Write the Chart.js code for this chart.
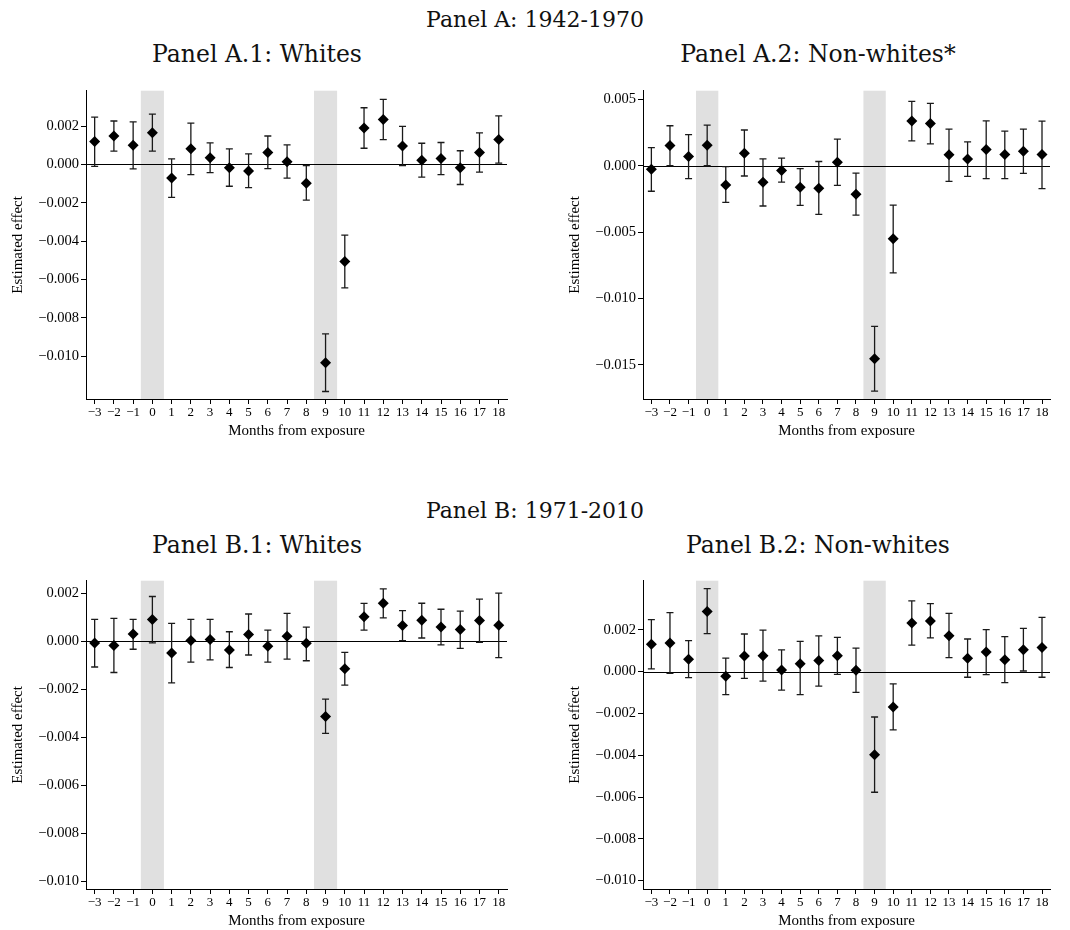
<!DOCTYPE html>
<html>
<head>
<meta charset="utf-8">
<script src="https://cdn.jsdelivr.net/npm/chart.js@4.4.1/dist/chart.umd.min.js"></script>
<style>
body { margin: 0; background: #fff; width: 1070px; height: 930px; position: relative; overflow: hidden; }
.t { position: absolute; font-family: "DejaVu Serif", serif; font-size: 22px; color: #111; white-space: nowrap; transform: translateX(-50%); line-height: 1; }
.s { font-size: 23.5px; }
canvas { position: absolute; }
</style>
</head>
<body>
<div class="t" style="left:535px;top:9px">Panel A: 1942-1970</div>
<div class="t s" style="left:257px;top:43px">Panel A.1: Whites</div>
<div class="t s" style="left:818px;top:43px">Panel A.2: Non-whites*</div>
<div class="t" style="left:535px;top:500px">Panel B: 1971-2010</div>
<div class="t s" style="left:257px;top:534px">Panel B.1: Whites</div>
<div class="t s" style="left:818px;top:534px">Panel B.2: Non-whites</div>

<canvas id="a1"></canvas>
<canvas id="a2"></canvas>
<canvas id="b1"></canvas>
<canvas id="b2"></canvas>

<script>
var months = [-3, -2, -1, 0, 1, 2, 3, 4, 5, 6, 7, 8, 9, 10, 11, 12, 13, 14, 15, 16, 17, 18];
var bands = [0, 9];

// Panel A.1: Whites, 1942-1970
var a1Est = [0.00119, 0.00148, 0.00100, 0.00165, -0.00071, 0.00081, 0.00034, -0.00017, -0.00034, 0.00062, 0.00014, -0.00098, -0.01034, -0.00506, 0.00189, 0.00234, 0.00096, 0.00022, 0.00031, -0.00017, 0.00062, 0.00129];
var a1Lo = [-0.00010, 0.00069, -0.00024, 0.00069, -0.00172, -0.00053, -0.00043, -0.00114, -0.00121, -0.00022, -0.00072, -0.00186, -0.01184, -0.00644, 0.00084, 0.00129, -0.00007, -0.00067, -0.00053, -0.00105, -0.00040, 0.00007];
var a1Hi = [0.00246, 0.00226, 0.00222, 0.00262, 0.00029, 0.00215, 0.00112, 0.00081, 0.00055, 0.00148, 0.00102, -0.00007, -0.00884, -0.00369, 0.00295, 0.00339, 0.00198, 0.00110, 0.00114, 0.00071, 0.00164, 0.00253];
var a1Ticks = [0.002, 0, -0.002, -0.004, -0.006, -0.008, -0.010];

// Panel A.2: Non-whites, 1942-1970
var a2Est = [-0.00027, 0.00152, 0.00070, 0.00154, -0.00144, 0.00095, -0.00124, -0.00035, -0.00162, -0.00169, 0.00027, -0.00214, -0.01453, -0.00550, 0.00336, 0.00318, 0.00082, 0.00050, 0.00122, 0.00085, 0.00109, 0.00085];
var a2Lo = [-0.00192, 0.00000, -0.00097, 0.00000, -0.00276, -0.00077, -0.00303, -0.00124, -0.00299, -0.00366, -0.00147, -0.00371, -0.01697, -0.00806, 0.00187, 0.00164, -0.00117, -0.00080, -0.00097, -0.00097, -0.00057, -0.00172];
var a2Hi = [0.00137, 0.00301, 0.00234, 0.00306, -0.00007, 0.00269, 0.00052, 0.00057, -0.00022, 0.00032, 0.00201, -0.00055, -0.01209, -0.00296, 0.00485, 0.00470, 0.00276, 0.00179, 0.00338, 0.00261, 0.00276, 0.00336];
var a2Ticks = [0.005, 0, -0.005, -0.010, -0.015];

// Panel B.1: Whites, 1971-2010
var b1Est = [-0.00007, -0.00017, 0.00031, 0.00091, -0.00049, 0.00004, 0.00008, -0.00036, 0.00029, -0.00020, 0.00021, -0.00008, -0.00313, -0.00114, 0.00103, 0.00159, 0.00066, 0.00088, 0.00060, 0.00049, 0.00087, 0.00067];
var b1Lo = [-0.00107, -0.00130, -0.00033, -0.00006, -0.00173, -0.00087, -0.00077, -0.00109, -0.00057, -0.00087, -0.00074, -0.00081, -0.00384, -0.00183, 0.00047, 0.00098, 0.00003, 0.00014, -0.00015, -0.00029, -0.00004, -0.00068];
var b1Hi = [0.00092, 0.00096, 0.00092, 0.00187, 0.00075, 0.00092, 0.00092, 0.00040, 0.00114, 0.00047, 0.00117, 0.00059, -0.00241, -0.00046, 0.00158, 0.00219, 0.00128, 0.00159, 0.00134, 0.00126, 0.00176, 0.00201];
var b1Ticks = [0.002, 0, -0.002, -0.004, -0.006, -0.008, -0.010];

// Panel B.2: Non-whites, 1971-2010
var b2Est = [0.00131, 0.00137, 0.00059, 0.00288, -0.00022, 0.00075, 0.00076, 0.00008, 0.00038, 0.00053, 0.00076, 0.00006, -0.00398, -0.00169, 0.00233, 0.00242, 0.00172, 0.00064, 0.00094, 0.00057, 0.00105, 0.00116];
var b2Lo = [0.00013, -0.00008, -0.00029, 0.00182, -0.00110, -0.00032, -0.00045, -0.00089, -0.00110, -0.00069, -0.00013, -0.00099, -0.00577, -0.00279, 0.00127, 0.00161, 0.00067, -0.00027, -0.00014, -0.00053, 0.00003, -0.00027];
var b2Hi = [0.00249, 0.00282, 0.00148, 0.00397, 0.00065, 0.00180, 0.00199, 0.00104, 0.00145, 0.00171, 0.00164, 0.00112, -0.00217, -0.00059, 0.00338, 0.00325, 0.00279, 0.00156, 0.00201, 0.00167, 0.00207, 0.00260];
var b2Ticks = [0.002, 0, -0.002, -0.004, -0.006, -0.008, -0.010];

var serif = '"Liberation Serif", "Times New Roman", serif';
var PLOT_H = 311, Y_W = 86, PAD_TOP = 8;

function minus(s, v) {
    return v < -1e-9 ? '\u2212' + s : s;
}

// shaded months, zero line and confidence intervals, drawn under the markers
function makeBars(lo, hi) {
    return {
        id: 'errorBars',
        beforeDatasetsDraw: function (chart) {
            var ctx = chart.ctx, x = chart.scales.x, y = chart.scales.y, area = chart.chartArea;
            ctx.save();
            ctx.fillStyle = '#e0e0e0';
            bands.forEach(function (b) {
                var l = x.getPixelForValue(b - 0.6), r = x.getPixelForValue(b + 0.6);
                ctx.fillRect(l, area.top, r - l, area.bottom - area.top);
            });
            var y0 = Math.round(y.getPixelForValue(0)) + 0.5;
            ctx.strokeStyle = '#000';
            ctx.lineWidth = 1;
            ctx.beginPath();
            ctx.moveTo(area.left, y0);
            ctx.lineTo(area.right, y0);
            ctx.stroke();
            ctx.strokeStyle = '#1a1a1a';
            ctx.lineWidth = 1.3;
            months.forEach(function (m, i) {
                var px = x.getPixelForValue(m);
                var pl = y.getPixelForValue(lo[i]), ph = y.getPixelForValue(hi[i]);
                ctx.beginPath();
                ctx.moveTo(px, pl); ctx.lineTo(px, ph);
                ctx.moveTo(px - 3.5, pl); ctx.lineTo(px + 3.5, pl);
                ctx.moveTo(px - 3.5, ph); ctx.lineTo(px + 3.5, ph);
                ctx.stroke();
            });
            ctx.restore();
        }
    };
}

function panel(id, axisX, plotTop, plotW, est, lo, hi, yMin, yMax, yTicks) {
    var cv = document.getElementById(id);
    var W = Y_W + plotW + 14, H = 360;
    cv.width = W;
    cv.height = H;
    cv.style.left = (axisX - Y_W) + 'px';
    cv.style.top = (plotTop - PAD_TOP) + 'px';

    new Chart(cv, {
        type: 'scatter',
        data: {
            datasets: [{
                data: months.map(function (m, i) { return { x: m, y: est[i] }; }),
                pointStyle: 'rectRot',
                radius: 5.5,
                backgroundColor: '#000',
                borderColor: '#000',
                borderWidth: 0
            }]
        },
        options: {
            responsive: false,
            animation: false,
            events: [],
            layout: { padding: { top: PAD_TOP, right: 14, left: 0, bottom: 0 } },
            plugins: { legend: { display: false }, tooltip: { enabled: false } },
            scales: {
                x: {
                    type: 'linear',
                    min: -3.45,
                    max: 18.43,
                    afterBuildTicks: function (s) { s.ticks = months.map(function (v) { return { value: v }; }); },
                    afterFit: function (s) { s.height = H - PAD_TOP - PLOT_H; },
                    grid: { drawOnChartArea: false, drawTicks: true, tickLength: 5, color: '#000' },
                    border: { color: '#000', width: 1 },
                    ticks: {
                        font: { family: serif, size: 13 },
                        color: '#000',
                        padding: 1,
                        maxRotation: 0,
                        autoSkip: false,
                        callback: function (v) { return minus(String(Math.abs(v)), v); }
                    },
                    title: { display: true, text: 'Months from exposure', font: { family: serif, size: 15 }, color: '#000', padding: 0 }
                },
                y: {
                    min: yMin,
                    max: yMax,
                    afterBuildTicks: function (s) { s.ticks = yTicks.map(function (v) { return { value: v }; }); },
                    afterFit: function (s) { s.width = Y_W; },
                    grid: { drawOnChartArea: false, drawTicks: true, tickLength: 5, color: '#000' },
                    border: { color: '#000', width: 1 },
                    ticks: {
                        font: { family: serif, size: 14.5 },
                        color: '#000',
                        padding: 2,
                        callback: function (v) { return minus(Math.abs(v).toFixed(3), v); }
                    },
                    title: { display: true, text: 'Estimated effect', font: { family: serif, size: 15 }, color: '#000', padding: { top: 9, bottom: 0 } }
                }
            }
        },
        plugins: [makeBars(lo, hi)]
    });
}

panel('a1', 86, 88, 421, a1Est, a1Lo, a1Hi, -0.01223, 0.00384, a1Ticks);
panel('a2', 642.7, 88, 407, a2Est, a2Lo, a2Hi, -0.01756, 0.00565, a2Ticks);
panel('b1', 86, 577.7, 421, b1Est, b1Lo, b1Hi, -0.01033, 0.00253, b1Ticks);
panel('b2', 642.7, 577.7, 407, b2Est, b2Lo, b2Hi, -0.0104, 0.00435, b2Ticks);
</script>
</body>
</html>
